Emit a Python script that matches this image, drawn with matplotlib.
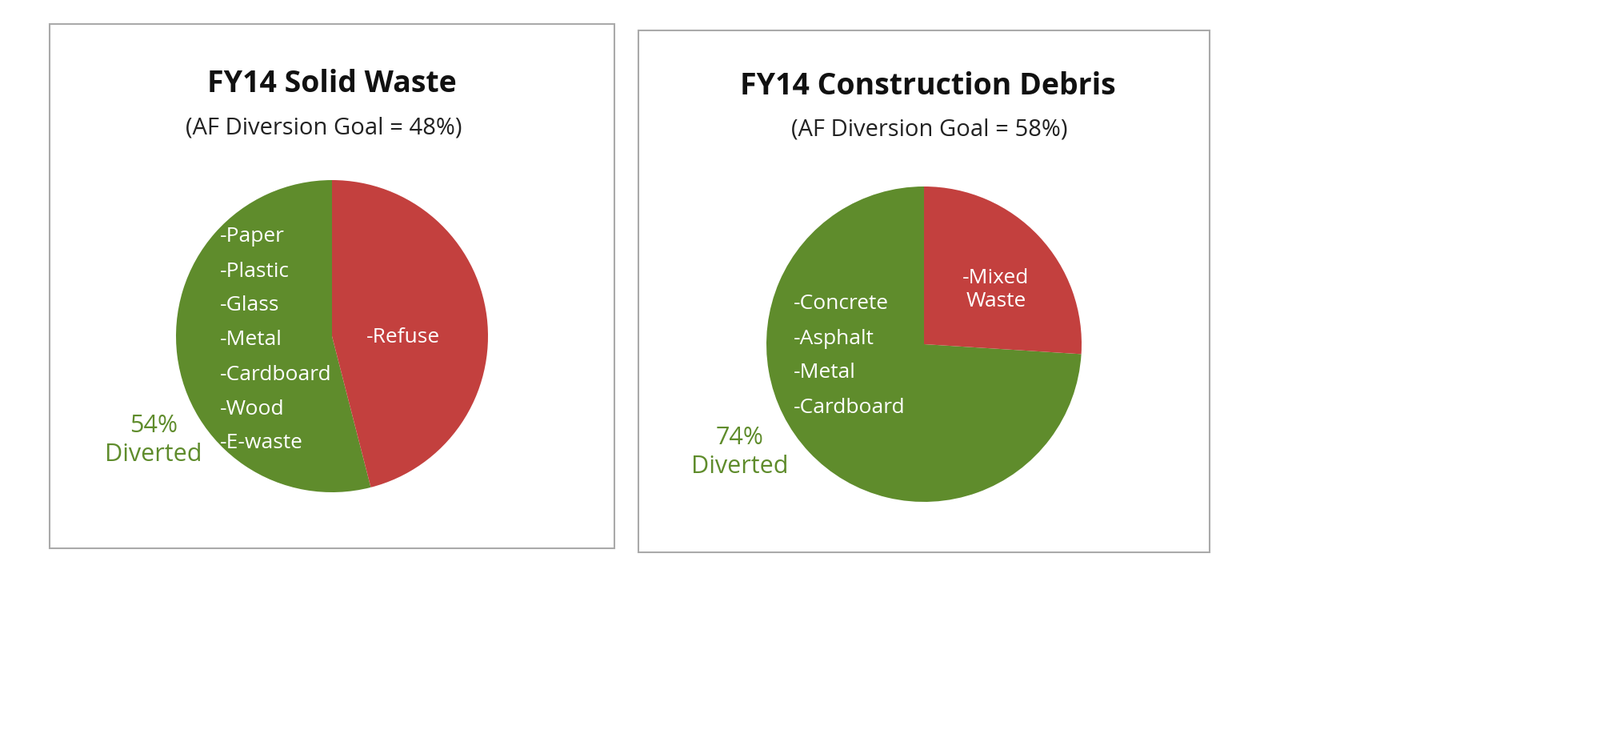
import matplotlib
matplotlib.use("Agg")
import matplotlib.pyplot as plt
from matplotlib.patches import Rectangle

W, H = 2000, 932
titles = ["FY14 Solid Waste", "FY14 Construction Debris"]
subtitles = ["(AF Diversion Goal = 48%)", "(AF Diversion Goal = 58%)"]
solid_values = [54, 46]
debris_values = [74, 26]
solid_diverted = ["-Paper", "-Plastic", "-Glass", "-Metal", "-Cardboard", "-Wood", "-E-waste"]
debris_diverted = ["-Concrete", "-Asphalt", "-Metal", "-Cardboard"]
GREEN, RED = "#5f8c2c", "#c3403e"
FONT = "Open Sans"

fig = plt.figure(figsize=(20, 9.32), dpi=100)
fx = lambda x: x / W
fy = lambda y: 1 - y / H

def box(x0, y0, x1, y1):
    fig.patches.append(Rectangle((fx(x0), fy(y1)), fx(x1 - x0), (y1 - y0) / H,
                                 transform=fig.transFigure, fill=False, ec="#aaaaaa", lw=1.5))

def pie(cx, cy, r, vals):
    ax = fig.add_axes([fx(cx - r), fy(cy + r), 2 * r / W, 2 * r / H])
    ax.pie(vals, colors=[GREEN, RED], startangle=90, counterclock=True,
           wedgeprops=dict(linewidth=0))
    ax.set_aspect("auto")
    ax.set_xlim(-1, 1)
    ax.set_ylim(-1, 1)
    ax.axis("off")

box(62, 30, 768, 685)
box(798, 38, 1512, 690)
pie(415, 420, 195, solid_values)
pie(1155, 430, 197, debris_values)

def t(x, y, s, **kw):
    fig.text(fx(x), fy(y), s, family=FONT, va="center", **kw)

t(415, 105, titles[0], ha="center", fontsize=27, weight="bold", color="#111111")
t(405, 160, subtitles[0], ha="center", fontsize=21, color="#222222")
t(1160, 108, titles[1], ha="center", fontsize=27, weight="bold", color="#111111")
t(1162, 162, subtitles[1], ha="center", fontsize=21, color="#222222")

for i, s in enumerate(solid_diverted):
    t(275, 296 + i * 43, s, ha="left", fontsize=19, color="white")
t(458, 422, "-Refuse", ha="left", fontsize=19, color="white")
t(192, 550, "54%\nDiverted", ha="center", fontsize=22, color=GREEN, linespacing=1.3)

for i, s in enumerate(debris_diverted):
    t(992, 380 + i * 43, s, ha="left", fontsize=19, color="white")
t(1245, 362, "-Mixed\nWaste", ha="center", fontsize=19, color="white", linespacing=1.25)
t(925, 565, "74%\nDiverted", ha="center", fontsize=22, color=GREEN, linespacing=1.3)

fig.savefig("out.png", dpi=100, facecolor="white")
